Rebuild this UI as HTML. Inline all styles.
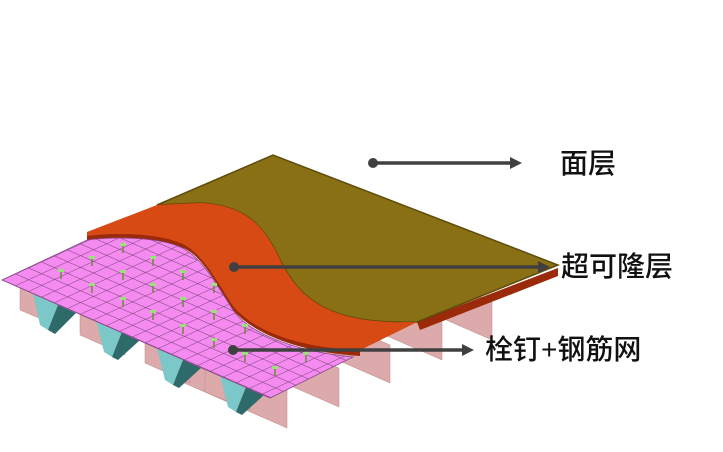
<!DOCTYPE html>
<html><head><meta charset="utf-8"><style>
html,body{margin:0;padding:0;background:#fff;}
svg{display:block}
text{font-family:"Liberation Sans","Noto Sans CJK SC",sans-serif;font-size:28px;fill:#111;font-weight:500}
</style></head><body>
<svg width="723" height="452" viewBox="0 0 723 452" xmlns="http://www.w3.org/2000/svg">
<defs>
<pattern id="g" width="10" height="10" patternUnits="userSpaceOnUse" patternTransform="matrix(1.3 0.57 1.3 -0.6 2 280)">
<rect width="10" height="10" fill="#f58af0"/>
<path d="M0 0H10M0 0V10" stroke="#6a3a6a" stroke-width="0.8" fill="none"/>
</pattern>
<g id="s" stroke="#6b8a3a" stroke-width="1.5" fill="#9be07a"><line x1="0" y1="0" x2="0" y2="8"/><rect x="-3" y="-2" width="6" height="3" stroke="none"/></g>
</defs>
<g fill="#dcaaaa" stroke="#b88" stroke-width="0.5">
<polygon points="492,302 492,340 380,291 380,253"/>
<polygon points="442,322 442,360 330,311 330,273"/>
<polygon points="390,345 390,383 278,334 278,296"/>
<polygon points="339,368 339,407 227,358 227,320"/>
<polygon points="287,390 287,428 175,379 175,341"/>
<polygon points="20,285 20,310 60,327 60,300"/>
<polygon points="80,312 80,335 125,355 125,330"/>
<polygon points="145,340 145,363 190,383 190,358"/>
<polygon points="205,367 205,392 250,410 250,385"/>
</g>
<g>
<polygon points="33,293 58,305 48,330 40,325" fill="#7cc8c8"/>
<polygon points="58,305 76,313 55,334 48,330" fill="#2e6a6a"/>
<polygon points="96,320 122,332 112,357 104,352" fill="#7cc8c8"/>
<polygon points="122,332 140,340 118,360 112,357" fill="#2e6a6a"/>
<polygon points="157,348 183,360 173,385 165,380" fill="#7cc8c8"/>
<polygon points="183,360 201,368 179,388 173,385" fill="#2e6a6a"/>
<polygon points="220,375 246,387 236,412 228,407" fill="#7cc8c8"/>
<polygon points="246,387 264,395 242,415 236,412" fill="#2e6a6a"/>
</g>
<polygon points="558,268 558,276 420,330 417,322" fill="#9a2a0a"/>
<path d="M157,205 L273,155 L558,265 L417,322 C330,325 300,300 280,260 C262,220 240,205 200,203 Z" fill="#8a7014" stroke="#5e4c0c" stroke-width="1.5"/>
<path d="M87,235 L157,205 L200,203 C240,205 262,220 280,260 C300,300 330,325 417,322 L360,350 L360,356 C300,352 255,335 233,310 C215,282 200,252 180,247 C160,238 120,237 87,241 Z" fill="#9a2a0a"/>
<path d="M87,232 L157,205 L200,203 C240,205 262,220 280,260 C300,300 330,325 417,322 L360,350 C300,348 255,332 233,306 C215,278 200,250 180,243 C160,234 120,232 87,236 Z" fill="#d84a14"/>
<path d="M2,280 L87,240 C120,236 160,238 180,247 C200,255 215,282 233,310 C250,335 300,352 353,357 L270,398 Z" fill="url(#g)" stroke="#8a4a8a" stroke-width="0.8"/>
<use href="#s" x="123" y="245"/><use href="#s" x="92" y="258"/><use href="#s" x="153" y="258"/>
<use href="#s" x="61" y="271"/><use href="#s" x="123" y="272"/><use href="#s" x="183" y="272"/>
<use href="#s" x="92" y="285"/><use href="#s" x="153" y="285"/><use href="#s" x="214" y="285"/>
<use href="#s" x="123" y="299"/><use href="#s" x="183" y="299"/><use href="#s" x="153" y="312"/>
<use href="#s" x="214" y="312"/><use href="#s" x="183" y="326"/><use href="#s" x="245" y="326"/>
<use href="#s" x="214" y="340"/><use href="#s" x="245" y="354"/><use href="#s" x="306" y="354"/>
<use href="#s" x="275" y="368"/>
<g stroke="#404040" stroke-width="3.5" fill="#404040">
<circle cx="373" cy="163" r="5" stroke="none"/><line x1="373" y1="163" x2="512" y2="163"/>
<polygon points="510,157 522,163 510,169" stroke="none"/>
<circle cx="234" cy="267" r="5" stroke="none"/><line x1="234" y1="267" x2="540" y2="267"/>
<polygon points="538,261 550,267 538,273" stroke="none"/>
<circle cx="233" cy="350" r="5" stroke="none"/><line x1="233" y1="350" x2="464" y2="350"/>
<polygon points="462,344 474,350 462,356" stroke="none"/>
</g>
<text x="560" y="173">面层</text>
<text x="561" y="276">超可隆层</text>
<text x="485" y="359">栓钉+钢筋网</text>
</svg>
</body></html>
